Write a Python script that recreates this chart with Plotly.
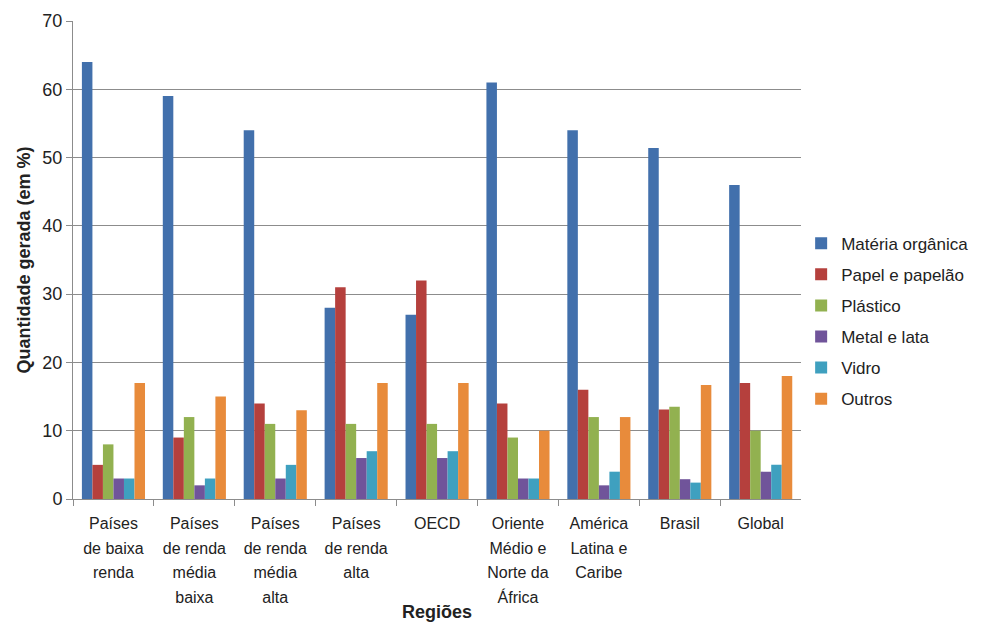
import plotly.graph_objects as go

# Regions on the category axis, one list of wrapped lines per group
regioes_linhas = [
    ["Países", "de baixa", "renda"],
    ["Países", "de renda", "média", "baixa"],
    ["Países", "de renda", "média", "alta"],
    ["Países", "de renda", "alta"],
    ["OECD"],
    ["Oriente", "Médio e", "Norte da", "África"],
    ["América", "Latina e", "Caribe"],
    ["Brasil"],
    ["Global"],
]
regioes = [" ".join(linhas) for linhas in regioes_linhas]

# Share of generated waste per material (%)
materia_organica = [64, 59, 54, 28, 27, 61, 54, 51.4, 46]
papel_papelao = [5, 9, 14, 31, 32, 14, 16, 13.1, 17]
plastico = [8, 12, 11, 11, 11, 9, 12, 13.5, 10]
metal_lata = [3, 2, 3, 6, 6, 3, 2, 2.9, 4]
vidro = [3, 3, 5, 7, 7, 3, 4, 2.4, 5]
outros = [17, 15, 13, 17, 17, 10, 12, 16.7, 18]

series = [
    ("Matéria orgânica", materia_organica, "#4270ac"),
    ("Papel e papelão", papel_papelao, "#b5403d"),
    ("Plástico", plastico, "#92b150"),
    ("Metal e lata", metal_lata, "#70549a"),
    ("Vidro", vidro, "#3fa0bf"),
    ("Outros", outros, "#e88b3b"),
]

fig = go.Figure()
for nome, valores, cor in series:
    fig.add_trace(go.Bar(
        x=regioes, y=valores, name=nome, legendgroup=nome,
        marker=dict(color=cor, line=dict(width=0)),
    ))

# Wrapped tick labels: the outer font size sets the line pitch,
# the inner span sets the glyph size.
rotulos = ["<br>".join(f"<span style='font-size:16px'>{l}</span>" for l in linhas)
           for linhas in regioes_linhas]

grid = "#8c8c8c"
texto = "#222222"
fig.update_layout(
    width=983, height=626,
    margin=dict(l=73, r=174, t=21, b=127),
    paper_bgcolor="white", plot_bgcolor="white",
    barmode="group", bargap=0.22, bargroupgap=0,
    font=dict(family="Liberation Sans, Arial, sans-serif", size=17, color=texto),
    legend=dict(
        xref="container", yref="container",
        x=0.815, y=0.487, xanchor="left", yanchor="middle",
        font=dict(size=17, color=texto),
        bgcolor="rgba(0,0,0,0)",
        tracegroupgap=6,
    ),
    showlegend=True,
)
fig.update_xaxes(
    type="category", automargin=False,
    tickson="boundaries", tickangle=0,
    tickvals=regioes, ticktext=rotulos,
    ticks="outside", ticklen=6, tickcolor=grid,
    ticklabelstandoff=6,
    showline=True, linecolor=grid, linewidth=1,
    tickfont=dict(size=19, color=texto),
    title=dict(text="<b>Regiões</b>", font=dict(size=18, color=texto), standoff=0),
)
fig.update_yaxes(
    range=[0, 70], dtick=10, automargin=False,
    showgrid=True, gridcolor=grid, gridwidth=1,
    ticks="outside", ticklen=6, tickcolor=grid,
    showline=True, linecolor=grid, linewidth=1,
    zeroline=False,
    tickfont=dict(size=18, color=texto),
    title=dict(text="<b>Quantidade gerada (em %)</b>", font=dict(size=18, color=texto), standoff=7),
)

fig.write_html("out.html")
